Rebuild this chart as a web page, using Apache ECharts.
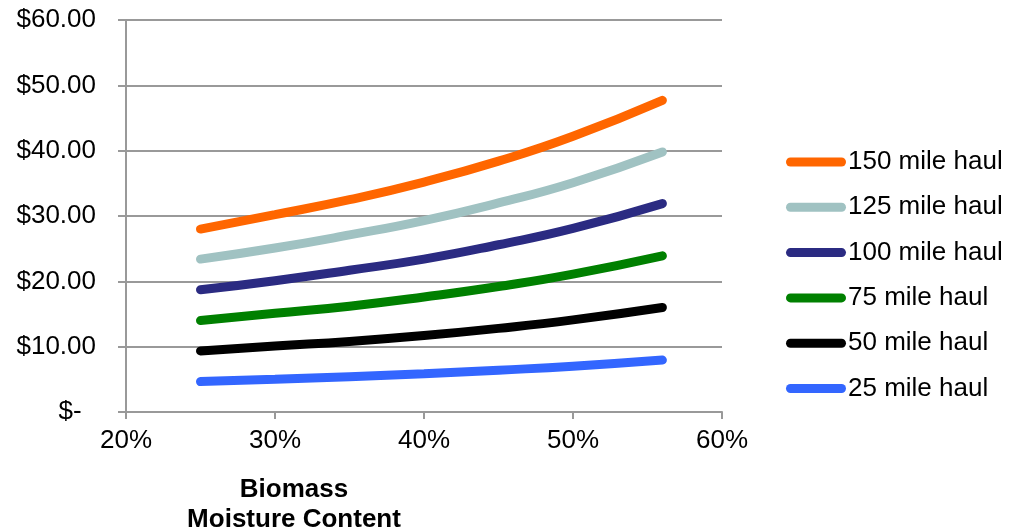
<!DOCTYPE html>
<html>
<head>
<meta charset="utf-8">
<script src="https://cdn.jsdelivr.net/npm/echarts@6/dist/echarts.min.js"></script>
<style>
  html, body { margin: 0; padding: 0; background: #fff; }
  #chart { width: 1021px; height: 529px; }
</style>
</head>
<body>
<div id="chart"></div>
<script>
// Moisture content (%) at which hauling cost was evaluated
const moisture = [25, 30, 35, 40, 45, 50, 56];

// Cost per delivered dry ton ($) by haul distance
const haul150 = [28.0, 30.2, 32.5, 35.2, 38.4, 42.2, 47.7];
const haul125 = [23.4, 25.1, 27.1, 29.3, 32.0, 35.1, 39.8];
const haul100 = [18.7, 20.1, 21.7, 23.4, 25.6, 28.1, 31.9];
const haul75  = [14.0, 15.1, 16.2, 17.6, 19.2, 21.1, 23.9];
const haul50  = [9.35, 10.1, 10.8, 11.7, 12.8, 14.1, 16.0];
const haul25  = [4.65, 5.0, 5.4, 5.85, 6.4, 7.0, 7.95];

const seriesNames = ['150 mile haul', '125 mile haul', '100 mile haul', '75 mile haul', '50 mile haul', '25 mile haul'];
const seriesValues = [haul150, haul125, haul100, haul75, haul50, haul25];
const seriesColors = ['#FF6600', '#A0C2C2', '#2B2B82', '#008000', '#000000', '#3366FF'];

const yTicks = { min: 0, max: 60, step: 10 };
const xTicks = { min: 20, max: 60, step: 10 };

const FONT = '"Liberation Sans", Arial, sans-serif';
const capsule = 'path://M4.5,0H55.5A4.5,4.5,0,0,1,55.5,9H4.5A4.5,4.5,0,0,1,4.5,0Z';

const chart = echarts.init(document.getElementById('chart'), null, { renderer: 'canvas' });

const series = seriesNames.map((name, i) => ({
  name: name,
  type: 'line',
  smooth: true,
  showSymbol: false,
  symbol: 'none',
  color: seriesColors[i],
  lineStyle: { width: 9, color: seriesColors[i], cap: 'round' },
  itemStyle: { color: seriesColors[i] },
  data: moisture.map((m, j) => [m, seriesValues[i][j]])
}));

chart.setOption({
  animation: false,
  textStyle: { fontFamily: FONT },
  grid: { left: 126, right: 299, top: 20, bottom: 117, containLabel: false },
  legend: {
    orient: 'vertical',
    left: 786,
    top: 149,
    itemWidth: 60,
    itemHeight: 9,
    itemGap: 19.3,
    padding: 0,
    icon: capsule,
    data: seriesNames,
    textStyle: { fontFamily: FONT, fontSize: 26, color: '#000', padding: [0, 0, 0, -3] }
  },
  xAxis: {
    type: 'value',
    min: xTicks.min,
    max: xTicks.max,
    interval: xTicks.step,
    axisLine: { show: true, lineStyle: { color: '#999', width: 2 } },
    axisTick: { show: true, length: 7, lineStyle: { color: '#999', width: 2 } },
    splitLine: { show: false },
    axisLabel: {
      margin: 16,
      fontFamily: FONT,
      fontSize: 26,
      color: '#000',
      formatter: v => v + '%'
    }
  },
  yAxis: {
    type: 'value',
    min: yTicks.min,
    max: yTicks.max,
    interval: yTicks.step,
    axisLine: { show: true, lineStyle: { color: '#999', width: 2 } },
    axisTick: { show: true, length: 8, lineStyle: { color: '#999', width: 2 } },
    splitLine: { show: true, lineStyle: { color: '#999', width: 2 } },
    axisLabel: {
      margin: 30,
      fontFamily: FONT,
      fontSize: 26,
      color: '#000',
      formatter: v => v === 0 ? '$-  ' : '$' + v.toFixed(2)
    }
  },
  graphic: [{
    type: 'text',
    x: 294,
    y: 475,
    style: {
      text: 'Biomass\nMoisture Content',
      textAlign: 'center',
      textVerticalAlign: 'top',
      font: 'bold 26px ' + FONT,
      lineHeight: 30,
      fill: '#000'
    }
  }],
  series: series
});
</script>
</body>
</html>
